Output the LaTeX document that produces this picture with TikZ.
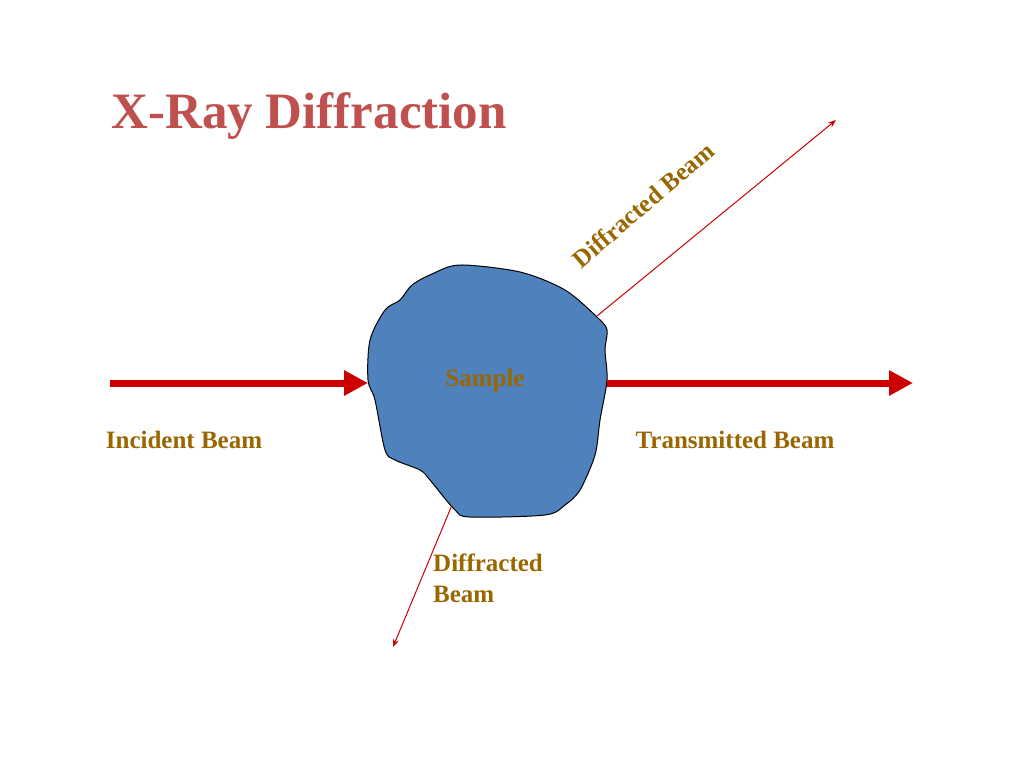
\documentclass[tikz,border=0pt]{standalone}
\usepackage{fontspec}
\setmainfont{Liberation Serif}
\usetikzlibrary{arrows.meta}
\definecolor{titlered}{RGB}{192,80,77}
\definecolor{lbl}{RGB}{153,102,0}
\definecolor{beam}{RGB}{204,0,0}
\definecolor{blob}{RGB}{79,129,189}
\begin{document}
\begin{tikzpicture}[x=1pt,y=-1pt,
  lab/.style={text=lbl,font=\fontsize{25}{31}\selectfont\bfseries},
  thick beam/.style={beam,line width=7pt,-{Triangle[length=24pt,width=24pt]}},
  thin beam/.style={beam,line width=1pt,-{Stealth[length=8pt,width=6pt]}}]
\useasboundingbox (0,0) rectangle (1024,768);
\node[anchor=west,text=titlered,font=\fontsize{51}{58}\selectfont\bfseries] (title) at (108,116) {X-Ray Diffraction};
\draw[fill=blob,line width=1pt] plot[smooth cycle,tension=0.5] coordinates {
(460,265) (520,272) (565,290) (598,318) (607,330) (605,350) (607,380) (600,420)
(595,455) (580,490) (565,505) (545,515) (470,517) (455,510) (430,480) (420,470)
(395,460) (385,450) (375,400) (368,380) (370,340) (385,310) (400,300) (412,285) (432,274)};
\node[lab] (sample) at (485,380) {Sample};
\coordinate (i0) at (110,383); \coordinate (i1) at (368,383);
\coordinate (t0) at (607,383); \coordinate (t1) at (913,383);
\coordinate (d0) at (597,316); \coordinate (d1) at (836,120);
\coordinate (e0) at (452,505); \coordinate (e1) at (393,647);
\draw[thick beam] (i0) -- (i1);
\draw[thick beam] (t0) -- (t1);
\draw[thin beam] (d0) -- (d1);
\draw[thin beam] (e0) -- (e1);
\node[lab] (inc) at (184,440) {Incident Beam};
\node[lab] (tr) at (735,440) {Transmitted Beam};
\node[lab,rotate=40.5] (db1) at (643,205) {Diffracted Beam};
\node[lab,anchor=north west,align=left,inner sep=0pt] (db2) at (433,554) {Diffracted\\Beam};
\end{tikzpicture}
\end{document}
